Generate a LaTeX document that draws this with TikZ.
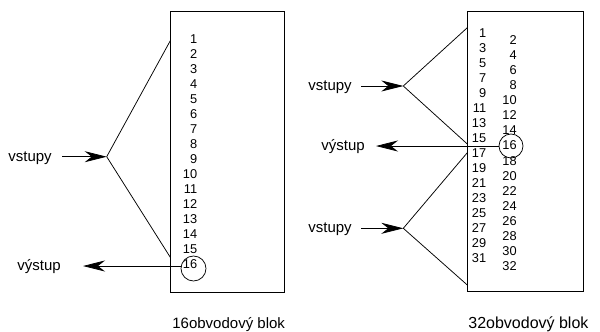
\documentclass[tikz,border=0pt]{standalone}
\usepackage{fontspec}
\setmainfont{Liberation Sans}
\usetikzlibrary{arrows.meta}
\begin{document}
\begin{tikzpicture}[x=1pt,y=-1pt,
  line width=0.75pt,
  numtxt/.style={anchor=east,inner sep=0pt,font=\fontsize{12.8}{14}\selectfont},
  lbl/.style={anchor=base west,inner sep=0pt,font=\fontsize{15}{18}\selectfont},
  captxt/.style={anchor=base west,inner sep=0pt},
  blockbox/.style={draw,rectangle,inner sep=0pt,anchor=north west},
  ring/.style={draw,circle,inner sep=0pt,minimum size=#1},
  arr/.style={-{Stealth[length=22pt,width=11pt,inset=7pt]}}
]
\useasboundingbox (0,0) rectangle (600,332);
% ---- left block ----
\node[blockbox,minimum width=114pt,minimum height=281pt] (boxL) at (170,11) {};
\foreach \i in {1,...,16}{
  \node[numtxt] (l\i) at (197.5,{38.8+(\i-1)*15.05}) {\i};
}
\node[ring=25pt] (cL) at (193.5,268.5) {};
\coordinate (aL1) at (170.3,40.7);
\coordinate (aL2) at (170.3,257.3);
\coordinate (mL) at (106.7,156.7);
\draw (aL1) -- (mL) -- (aL2);
\node[lbl] (inL) at (8,161.5) {vstupy};
\draw[arr] (62,156.7) -- (mL);
\coordinate (oL) at (83,266);
\draw[arr] (cL.west |- oL) -- (oL);
\node[lbl] (outLtxt) at (17,270.5) {výstup};
\node[captxt,font=\fontsize{15}{18}\selectfont] (capL) at (172,328) {16obvodový blok};
% ---- right block ----
\node[blockbox,minimum width=116pt,minimum height=280pt] (boxR) at (467,11) {};
\foreach \k in {1,3,...,31}{
  \node[numtxt] (r\k) at (486.5,{33.3+(\k-1)/2*15.0}) {\k};
}
\foreach \k in {2,4,...,32}{
  \node[numtxt] (r\k) at (517,{40+(\k/2-1)*15.08}) {\k};
}
\node[ring=24pt] (cR) at (511,146) {};
\coordinate (aR1) at (467.3,27.7);
\coordinate (aR2) at (467.3,144);
\coordinate (mR1) at (403.3,86);
\coordinate (aR3) at (467.3,152.7);
\coordinate (aR4) at (467.3,285);
\coordinate (mR2) at (403.3,228.3);
\draw (aR1) -- (mR1) -- (aR2);
\draw (aR3) -- (mR2) -- (aR4);
\node[lbl] (inR1) at (308,90.5) {vstupy};
\node[lbl] (inR2) at (308,232.8) {vstupy};
\draw[arr] (361,86) -- (mR1);
\draw[arr] (361,228.3) -- (mR2);
\coordinate (oR) at (376,146);
\draw[arr] (cR.west |- oR) -- (oR);
\node[lbl] (outRtxt) at (321,150.5) {výstup};
\node[captxt,font=\fontsize{16}{19}\selectfont] (capR) at (468,328) {32obvodový blok};
\end{tikzpicture}
\end{document}
